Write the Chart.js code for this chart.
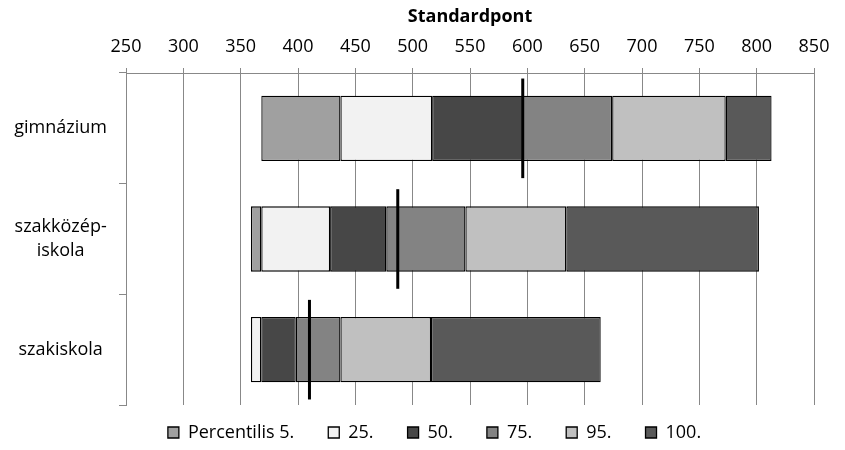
<!DOCTYPE html>
<html>
<head>
<meta charset="utf-8">
<script src="https://cdn.jsdelivr.net/npm/chart.js@4/dist/chart.umd.min.js"></script>
<style>
html,body{margin:0;padding:0;background:#fff;}
#wrap{width:845px;height:450px;position:relative;}
</style>
</head>
<body>
<div id="wrap"><canvas id="c"></canvas></div>
<script>
// ---- data ----
const categories = ['gimnázium', ['szakközép-', 'iskola'], 'szakiskola'];
const seriesNames = ['Percentilis 5.', '25.', '50.', '75.', '95.', '100.'];
// left end of each bar (start of the first segment)
const barStart = [368, 359, 359];
// right end of each segment
const endP5   = [437, 368, 359];
const endP25  = [517, 428, 368];
const endP50  = [596, 477, 398];
const endP75  = [674, 546, 437];
const endP95  = [773, 634, 516];
const endP100 = [813, 802, 664];
// vertical marker (mean)
const meanValues = [596, 487, 410];
// axis ticks
const axisMin = 250, axisMax = 850, axisStep = 50;
const axisTitle = 'Standardpont';

const colors = ['#a0a0a0', '#f2f2f2', '#474747', '#838383', '#c0c0c0', '#595959'];
const ends = [endP5, endP25, endP50, endP75, endP95, endP100];

const datasets = ends.map((arr, k) => {
  const prev = k === 0 ? barStart : ends[k - 1];
  return {
    label: seriesNames[k],
    data: arr.map((v, i) => [prev[i], v]),
    backgroundColor: colors[k],
    borderColor: '#000000',
    borderWidth: 1.3,
    borderSkipped: false,
    grouped: false,
    categoryPercentage: 1,
    barPercentage: 0.59
  };
});

const FONT = "'Open Sans', 'Noto Sans', sans-serif";

const meanPlugin = {
  id: 'meanMarker',
  afterDatasetsDraw(chart) {
    const xs = chart.scales.x, ys = chart.scales.y, ctx = chart.ctx;
    const band = Math.abs(ys.getPixelForValue(1) - ys.getPixelForValue(0));
    ctx.save();
    ctx.strokeStyle = '#000';
    ctx.lineWidth = 3;
    meanValues.forEach((m, i) => {
      const x = xs.getPixelForValue(m);
      const y = ys.getPixelForValue(i);
      ctx.beginPath();
      ctx.moveTo(x, y - band * 0.45);
      ctx.lineTo(x, y + band * 0.45);
      ctx.stroke();
    });
    ctx.restore();
  }
};

const legendPlace = {
  id: 'legendPlace',
  afterLayout(chart) {
    const lg = chart.legend;
    if (!lg) return;
    lg.top = 389.5;
    lg.bottom = chart.height;
    lg.height = lg.bottom - lg.top;
    lg.left = 2 * 434.5 - lg.right;
  }
};

new Chart(document.getElementById('c'), {
  type: 'bar',
  data: { labels: categories, datasets },
  options: {
    indexAxis: 'y',
    responsive: true,
    maintainAspectRatio: false,
    animation: false,
    events: [],
    layout: { padding: { top: 0, right: 31, bottom: 0, left: 0 } },
    scales: {
      x: {
        position: 'top',
        min: axisMin, max: axisMax,
        ticks: { stepSize: axisStep, color: '#000', padding: 12,
          font: { family: FONT, size: 18, lineHeight: 1.0 } },
        grid: { color: '#888888', lineWidth: 1, tickLength: 5 },
        border: { color: '#888888' },
        title: { display: true, text: axisTitle, color: '#000',
          font: { family: FONT, size: 18, weight: 'bold', lineHeight: 1.0 },
          padding: { top: 8, bottom: 0 } }
      },
      y: {
        position: 'left',
        ticks: { color: '#000', crossAlign: 'center', padding: 12,
          font: { family: FONT, size: 18, lineHeight: 1.33 } },
        grid: { drawOnChartArea: false, color: '#888888', tickLength: 7, offset: true },
        border: { color: '#888888' },
        afterFit(s) { s.width = 126; }
      }
    },
    plugins: {
      legend: {
        position: 'bottom',
        maxHeight: 45,
        labels: { boxWidth: 11, boxHeight: 11, padding: 34, color: '#000',
          font: { family: FONT, size: 18 } }
      },
      tooltip: { enabled: false }
    }
  },
  plugins: [meanPlugin, legendPlace]
});
</script>
</body>
</html>
